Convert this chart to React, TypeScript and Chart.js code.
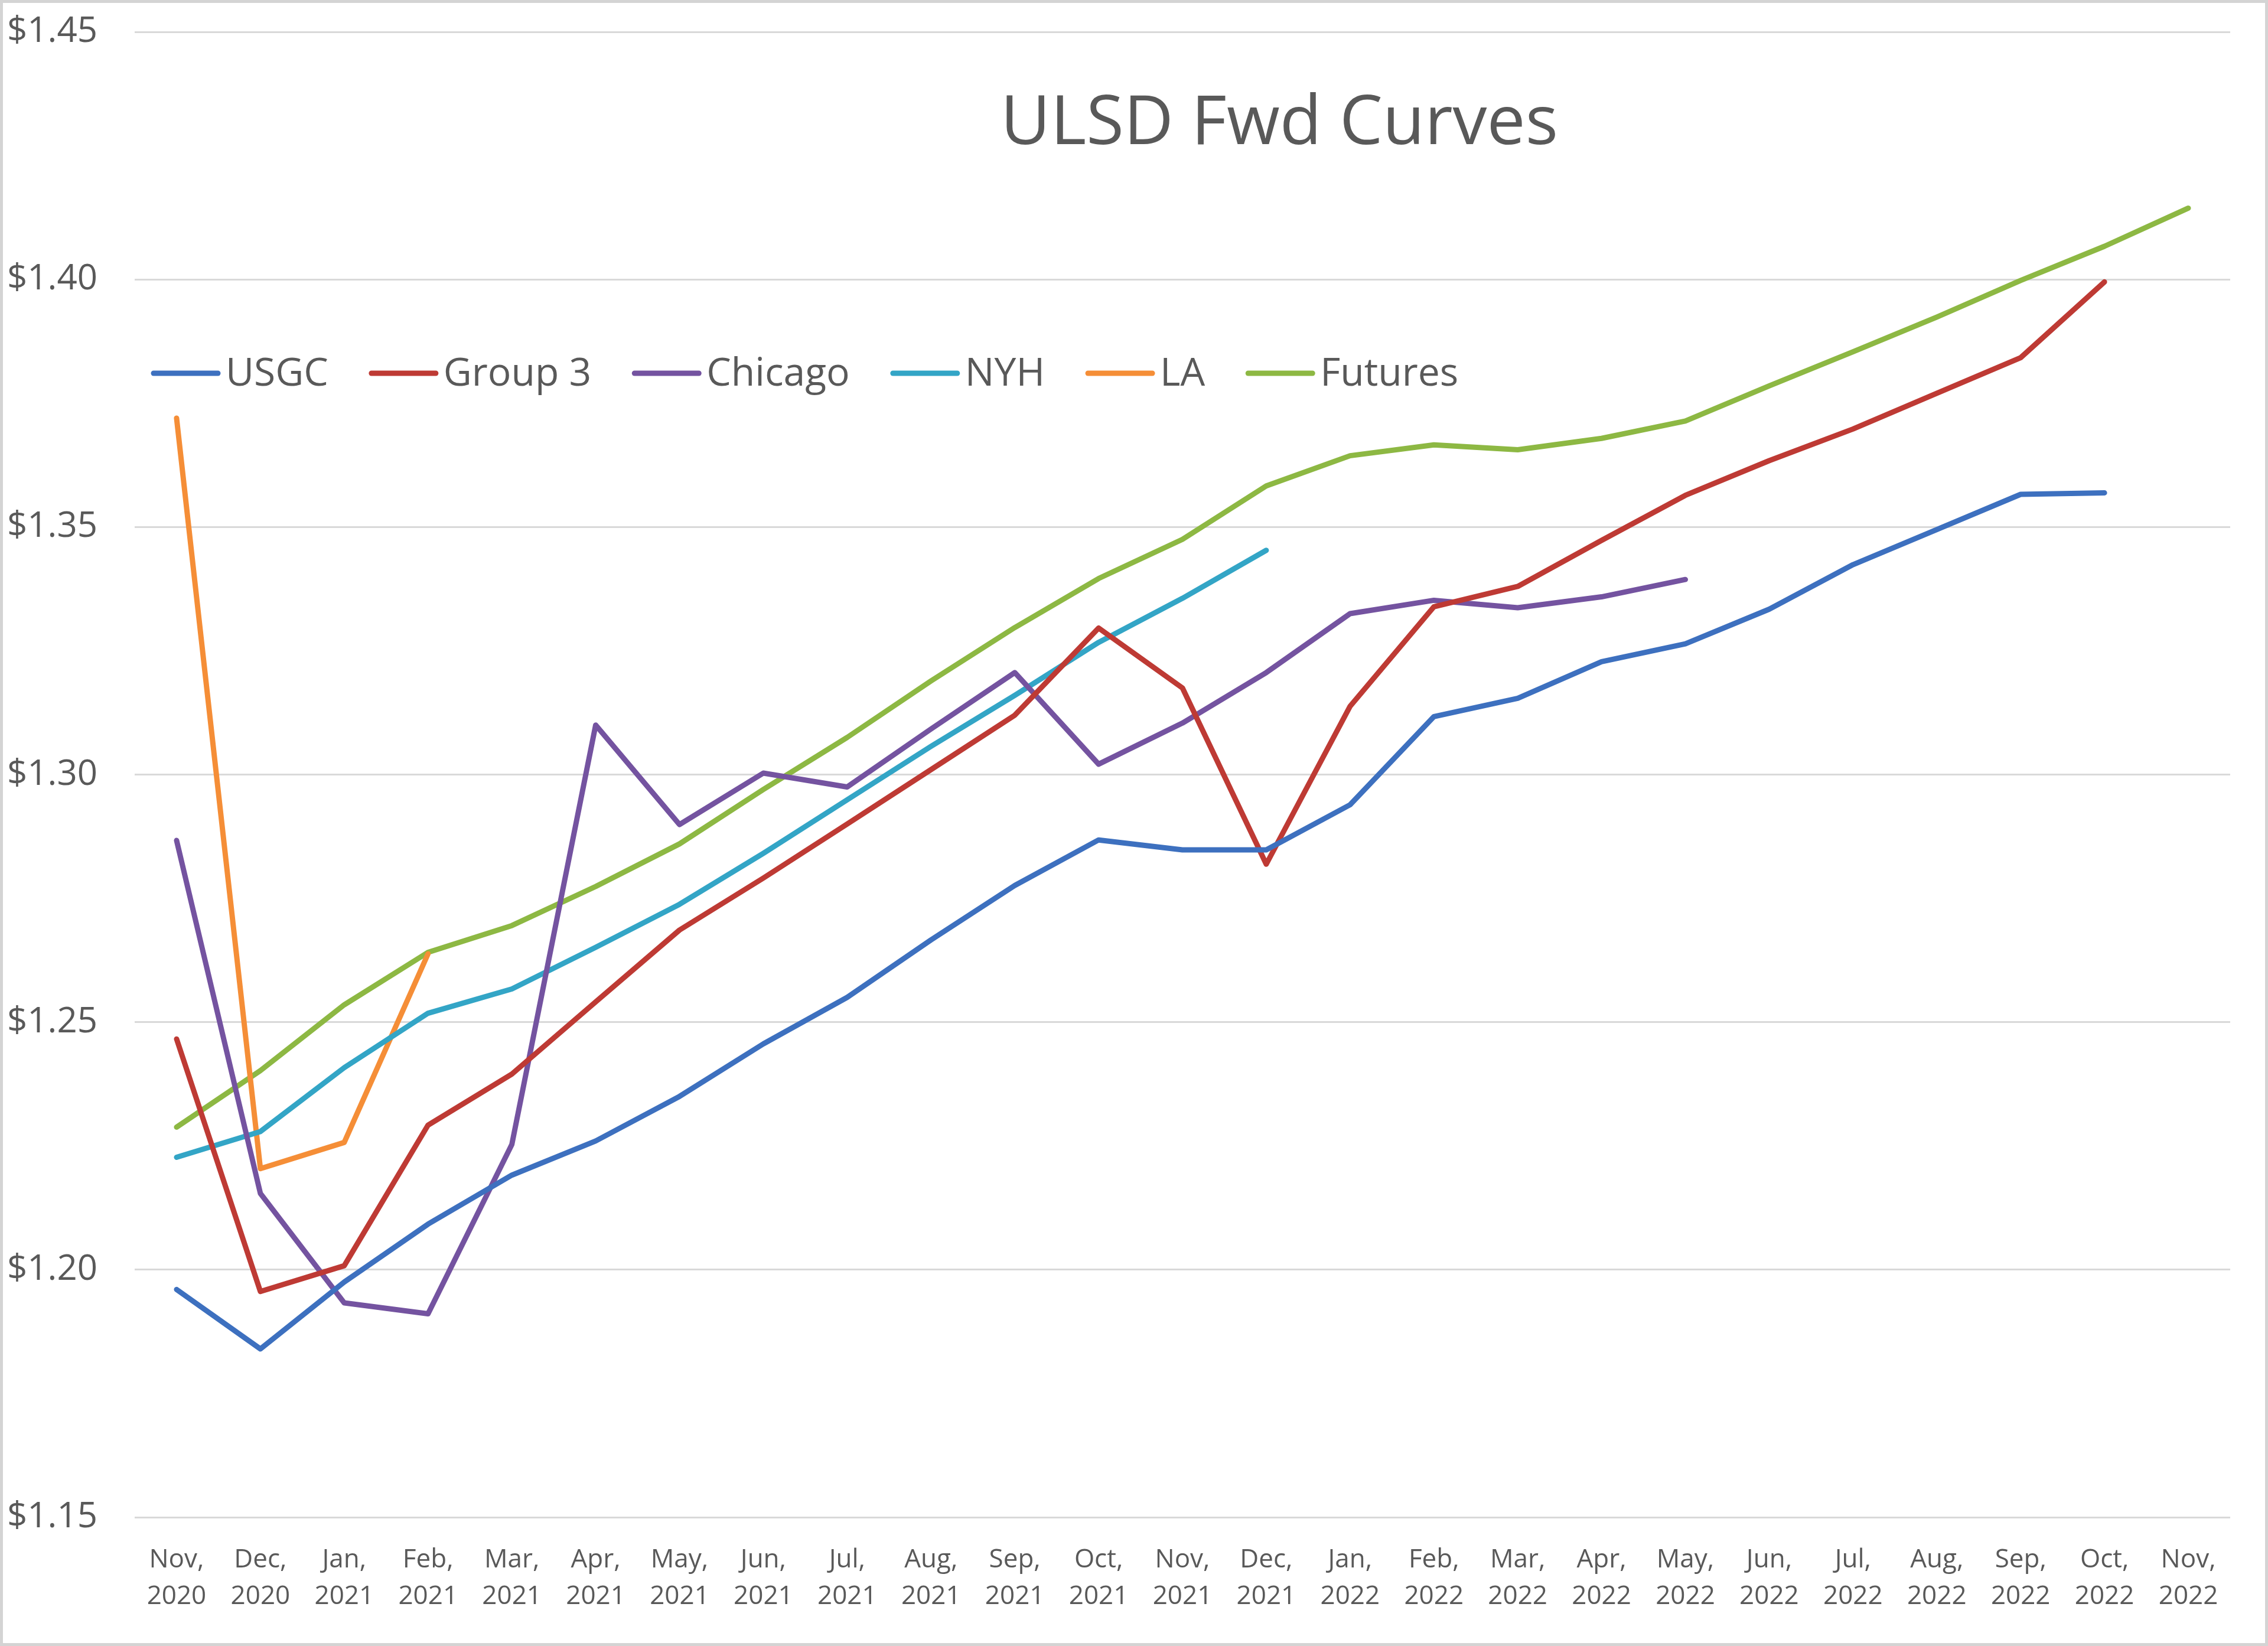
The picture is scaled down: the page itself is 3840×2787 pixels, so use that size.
import React, { useEffect, useRef } from "react";
import { Chart, registerables } from "chart.js";

Chart.register(...registerables);

const months = [
  ["Nov,", "2020"], ["Dec,", "2020"], ["Jan,", "2021"], ["Feb,", "2021"], ["Mar,", "2021"],
  ["Apr,", "2021"], ["May,", "2021"], ["Jun,", "2021"], ["Jul,", "2021"], ["Aug,", "2021"],
  ["Sep,", "2021"], ["Oct,", "2021"], ["Nov,", "2021"], ["Dec,", "2021"], ["Jan,", "2022"],
  ["Feb,", "2022"], ["Mar,", "2022"], ["Apr,", "2022"], ["May,", "2022"], ["Jun,", "2022"],
  ["Jul,", "2022"], ["Aug,", "2022"], ["Sep,", "2022"], ["Oct,", "2022"], ["Nov,", "2022"],
];

const usgc = [1.196, 1.184, 1.1975, 1.2092, 1.2191, 1.226, 1.235, 1.2456, 1.255, 1.2666, 1.2776, 1.2868, 1.2848, 1.2848, 1.2939, 1.3117, 1.3154, 1.3228, 1.3264, 1.3334, 1.3424, 1.3495, 1.3566, 1.3569, null];
const group3 = [1.2466, 1.1956, 1.2008, 1.2292, 1.2395, 1.2541, 1.2686, 1.2791, 1.29, 1.301, 1.312, 1.3296, 1.3175, 1.2819, 1.3138, 1.3339, 1.338, 1.3473, 1.3564, 1.3634, 1.3698, 1.377, 1.3842, 1.3995, null];
const chicago = [1.2867, 1.2154, 1.1933, 1.1911, 1.2253, 1.31, 1.2899, 1.3003, 1.2975, 1.3092, 1.3206, 1.3021, 1.3104, 1.3206, 1.3325, 1.3352, 1.3337, 1.3359, 1.3394, null, null, null, null, null, null];
const nyh = [1.2227, 1.2279, 1.2408, 1.2518, 1.2567, 1.2651, 1.2738, 1.2841, 1.2949, 1.3057, 1.316, 1.3267, 1.3356, 1.3453, null, null, null, null, null, null, null, null, null, null, null];
const la = [1.372, 1.2204, 1.2257, 1.2638, null, null, null, null, null, null, null, null, null, null, null, null, null, null, null, null, null, null, null, null, null];
const futures = [1.2288, 1.2402, 1.2535, 1.2641, 1.2695, 1.2774, 1.286, 1.297, 1.3075, 1.3189, 1.3297, 1.3396, 1.3475, 1.3583, 1.3644, 1.3666, 1.3656, 1.3679, 1.3714, 1.3785, 1.3854, 1.3924, 1.3998, 1.4067, 1.4144];

const seriesNames = ["USGC", "Group 3", "Chicago", "NYH", "LA", "Futures"];
const seriesData = [usgc, group3, chicago, nyh, la, futures];
const seriesColors = ["#3D70BF", "#BE3A34", "#7453A0", "#33A5C6", "#F58E37", "#8DB843"];

const yMin = 1.15;
const yMax = 1.45;
const yStep = 0.05;
const titleText = "ULSD Fwd Curves";

const FONT = '"Open Sans", "DejaVu Sans", sans-serif';
const TEXT_COLOR = "#595959";

const overlayPlugin = {
  id: "overlay",
  afterDraw(chart: any) {
    const ctx = chart.ctx;
    ctx.save();
    // title
    ctx.fillStyle = TEXT_COLOR;
    ctx.font = `116px ${FONT}`;
    ctx.textAlign = "center";
    ctx.textBaseline = "middle";
    ctx.fillText(titleText, 2166, 211);
    // legend
    ctx.font = `66px ${FONT}`;
    ctx.textAlign = "left";
    let x = 255;
    const y = 632;
    chart.data.datasets.forEach((ds: any) => {
      ctx.strokeStyle = ds.borderColor;
      ctx.lineWidth = 9;
      ctx.lineCap = "round";
      ctx.beginPath();
      ctx.moveTo(x + 5, y);
      ctx.lineTo(x + 114, y);
      ctx.stroke();
      x += 127;
      ctx.fillStyle = TEXT_COLOR;
      ctx.fillText(ds.label, x, y + 2);
      x += ctx.measureText(ds.label).width + 68;
    });
    ctx.restore();
  },
};

export default function App() {
  const canvasRef = useRef<HTMLCanvasElement>(null);

  useEffect(() => {
    if (!canvasRef.current) return;
    const chart = new Chart(canvasRef.current, {
      type: "line",
      data: {
        labels: months,
        datasets: seriesNames.map((name, i) => ({
          label: name,
          data: seriesData[i],
          borderColor: seriesColors[i],
          backgroundColor: seriesColors[i],
          borderWidth: 9,
          pointRadius: 0,
          pointHoverRadius: 0,
          tension: 0,
          spanGaps: false,
          borderCapStyle: "round",
          borderJoinStyle: "round",
          fill: false,
        })),
      },
      options: {
        animation: false,
        responsive: true,
        maintainAspectRatio: false,
        layout: { padding: { left: 12, top: 54, right: 64, bottom: 0 } },
        plugins: {
          legend: { display: false },
          title: { display: false },
          tooltip: { enabled: false },
        },
        scales: {
          x: {
            offset: true,
            grid: { display: false, drawTicks: false },
            border: { display: false },
            ticks: {
              autoSkip: false,
              maxRotation: 0,
              minRotation: 0,
              padding: 42,
              color: TEXT_COLOR,
              font: { family: FONT, size: 44, lineHeight: 1.4 },
            },
            afterFit(scale: any) {
              scale.height = 218;
            },
          },
          y: {
            min: yMin,
            max: yMax,
            grid: { color: "#d9d9d9", lineWidth: 3, drawTicks: false },
            border: { display: false },
            ticks: {
              stepSize: yStep,
              crossAlign: "far",
              padding: 0,
              color: TEXT_COLOR,
              font: { family: FONT, size: 60 },
              callback: (v: any) => "$" + Number(v).toFixed(2),
            },
            afterFit(scale: any) {
              scale.width = 216;
            },
          },
        },
      },
      plugins: [overlayPlugin],
    });
    return () => chart.destroy();
  }, []);

  return (
    <div style={{ position: "fixed", left: 0, top: 0, width: 3840, height: 2787, background: "#ffffff" }}>
      <canvas ref={canvasRef} />
      <div
        style={{
          position: "absolute",
          left: 0,
          top: 0,
          width: 3840,
          height: 2787,
          boxSizing: "border-box",
          border: "5px solid #d4d4d4",
          pointerEvents: "none",
        }}
      />
    </div>
  );
}
